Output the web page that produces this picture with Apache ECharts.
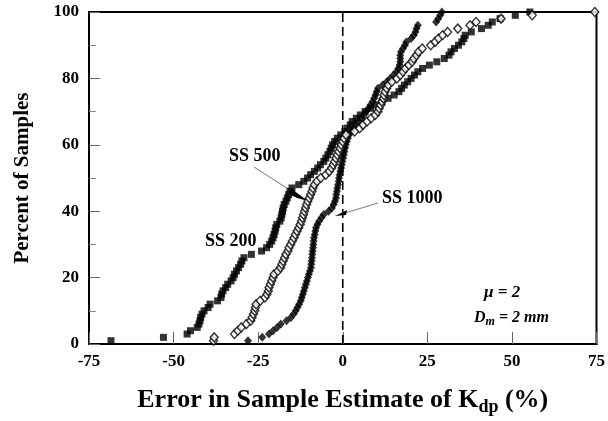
<!DOCTYPE html>
<html><head><meta charset="utf-8">
<script src="https://cdn.jsdelivr.net/npm/echarts@6/dist/echarts.min.js"></script>
<style>html,body{margin:0;padding:0;background:#fff}#c{width:608px;height:421px}</style>
</head><body><div id="c"></div>
<script>
// Percent-of-samples levels (rank of each sample, %)
const percents = Array.from({length:100},(_,i)=>i+1);
// Errors (%), in rank order
const ss200 = [-68.5,-53,-46,-45,-43,-42.5,-42.2,-42,-41.6,-41,
  -39.8,-39.2,-37,-36,-35.8,-35.4,-34.6,-34,-33,-32.4,
  -32,-31.4,-30.8,-30.2,-29.8,-29.2,-27,-24,-22.5,-21.6,
  -21,-20.6,-20.3,-20,-19.8,-19.5,-18.6,-18.2,-18,-17.8,
  -17.6,-17.3,-16.8,-16.4,-16,-15.6,-15,-13,-11.5,-10.4,
  -9.5,-8.4,-7.4,-6.6,-5.6,-5,-4.4,-3.8,-3.4,-3,
  -2.4,-1.6,-0.6,0.6,1.4,2.2,2.8,4,5.2,6.6,
  8.2,9.8,11.6,13.4,15.2,16.6,17.4,18.2,19.2,20.2,
  21.2,22.2,23.6,25.6,27.8,30,31.4,32,33,34.2,
  35.2,35.8,36.2,38,41,43,44.2,46.5,51,55.3];
const ss500 = [-38.2,-38,-32,-31,-30,-28.5,-27.2,-26.8,-26.4,-26,
  -25.8,-25.6,-24.4,-23,-22.4,-22,-21.8,-21.4,-21,-20.6,
  -20.3,-19.2,-18.4,-18,-17.6,-17.2,-16.8,-16.2,-15.9,-15.4,
  -14.9,-14.4,-14,-13.5,-13,-12.6,-12.2,-11.9,-11.6,-11.3,
  -11,-10.7,-10.3,-9.9,-9.5,-9.1,-8.8,-8.4,-7.6,-6.5,
  -5,-4,-3.3,-2.8,-2.4,-2,-1.6,-1.2,-0.8,-0.4,
  0,0.4,1,3.5,5,6,7.2,8.4,9.6,10.4,
  10.8,11.2,11.6,12,12.2,12.5,13,13.5,14.5,16,
  17,17.8,18.5,19.5,20.5,21,21.8,22.4,23.5,26,
  27.3,28.3,29.5,31,34,37.6,39.4,46.8,56,74.5];
const ss1000 = [-28,-23.8,-21.8,-20.6,-19.4,-18.3,-16.6,-15.3,-14.5,-13.9,
  -13.4,-12.9,-12.4,-12.1,-11.8,-11.5,-11.2,-10.9,-10.6,-10.3,
  -10,-9.7,-9.4,-9.3,-9.2,-9.1,-9,-8.9,-8.8,-8.7,
  -8.6,-8.5,-8.3,-8.1,-7.9,-7.5,-7,-6.3,-5.6,-4.2,
  -3.2,-2.7,-2.3,-2,-1.9,-1.7,-1.6,-1.4,-1.2,-1.1,
  -0.9,-0.7,-0.5,-0.3,-0.1,0.1,0.3,0.5,0.7,0.9,
  1.2,1.5,1.9,2.5,3.2,3.8,4.6,5.6,6.2,6.9,
  7.6,8.2,8.8,9.3,9.7,10,10.4,11.8,13,14,
  15,15.9,16.4,16.8,17,17,17,17.2,17.8,18.4,
  18.8,20.2,21,21.5,21.8,22.2,27.6,28.2,28.8,29.3];
const seriesNames = ['SS 200','SS 500','SS 1000'];
const xTicks = [-75,-50,-25,0,25,50,75];
const yTicks = [0,20,40,60,80,100];
const zeroLine = [[0,0],[0,100]];

const F = '"Liberation Serif","DejaVu Serif",serif';
const pair = arr => arr.map((x,i)=>[x,percents[i]]);
const chart = echarts.init(document.getElementById('c'),null,{renderer:'canvas'});
chart.setOption({
  animation:false,
  backgroundColor:'#fff',
  grid:{left:89,right:9,top:12,bottom:69,show:true,borderColor:'#000',borderWidth:2,backgroundColor:'transparent'},
  xAxis:{type:'value',min:-75,max:75,interval:25,
    axisLine:{show:true,onZero:false,lineStyle:{color:'#000',width:2}},
    axisTick:{show:true,inside:true,length:12,lineStyle:{color:'#666',width:1}},
    splitLine:{show:false},
    axisLabel:{color:'#000',fontFamily:F,fontWeight:'bold',fontSize:17,margin:9,
      formatter:v=>xTicks.includes(v)?String(v):''},
    name:'Error in Sample Estimate of K{s|dp} (%)',nameLocation:'middle',nameGap:40,
    nameTextStyle:{color:'#000',fontFamily:F,fontWeight:'bold',fontSize:26,
      rich:{s:{fontFamily:F,fontWeight:'bold',fontSize:18,padding:[14,0,0,0],color:'#000'}}}
  },
  yAxis:{type:'value',min:0,max:100,interval:20,
    axisLine:{show:true,onZero:false,lineStyle:{color:'#000',width:2}},
    axisTick:{show:true,inside:true,length:11,lineStyle:{color:'#666',width:1}},
    minorTick:{show:true,splitNumber:2,length:7,lineStyle:{color:'#888',width:1}},
    splitLine:{show:false},
    axisLabel:{color:'#000',fontFamily:F,fontWeight:'bold',fontSize:17,margin:10,
      formatter:v=>yTicks.includes(v)?String(v):''},
    name:'Percent of Samples',nameLocation:'middle',nameGap:56,nameRotate:90,
    nameTextStyle:{color:'#000',fontFamily:F,fontWeight:'bold',fontSize:21}
  },
  series:[
    {name:'zero',type:'line',data:zeroLine,symbol:'none',silent:true,z:1,
      lineStyle:{color:'#000',width:1.6,type:[9,5]}},
    {name:seriesNames[0],type:'scatter',data:pair(ss200),symbol:'rect',symbolSize:7,
      itemStyle:{color:'#000'},z:3},
    {name:seriesNames[1],type:'scatter',data:pair(ss500),symbol:'diamond',symbolSize:[8,9],
      itemStyle:{color:'#fff',borderColor:'#000',borderWidth:1.4},z:4},
    {name:seriesNames[2],type:'scatter',data:pair(ss1000),symbol:'diamond',symbolSize:[8,9],
      itemStyle:{color:'#000'},z:3}
  ],
  graphic:[
    {type:'text',left:229,top:147,style:{text:'SS 500',font:'bold 18px '+F,fill:'#000'}},
    {type:'text',left:205,top:232,style:{text:'SS 200',font:'bold 18px '+F,fill:'#000'}},
    {type:'text',left:382,top:189,style:{text:'SS 1000',font:'bold 18px '+F,fill:'#000'}},
    {type:'line',shape:{x1:254,y1:167,x2:296,y2:194},style:{stroke:'#777',lineWidth:1}},
    {type:'polygon',shape:{points:[[293,190],[308,201],[297,198],[291,195]]},style:{fill:'#000'}},
    {type:'line',shape:{x1:378,y1:203,x2:345,y2:213},style:{stroke:'#777',lineWidth:1}},
    {type:'polygon',shape:{points:[[335,216],[347,210],[346,215]]},style:{fill:'#000'}},
    {type:'text',left:484,top:284,style:{text:'μ = 2',font:'italic bold 17px '+F,fill:'#000'}},
    {type:'text',left:474,top:310,style:{rich:{a:{font:'italic bold 16px '+F,fill:'#000'},b:{font:'italic bold 12px '+F,fill:'#000',padding:[8,0,0,0]}},text:'{a|D}{b|m}{a| = 2 mm}'}}
  ]
});
</script></body></html>
